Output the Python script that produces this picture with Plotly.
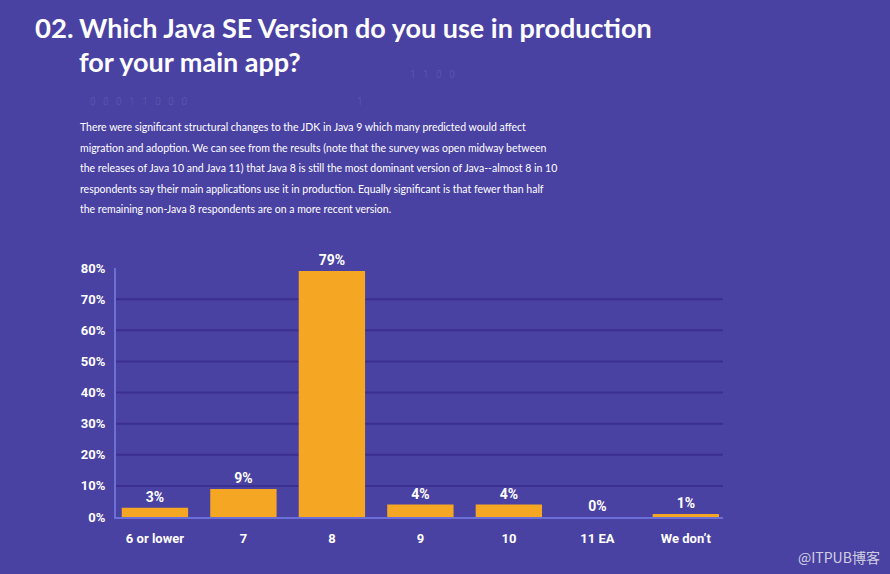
import plotly.graph_objects as go

categories = ["6 or lower", "7", "8", "9", "10", "11 EA", "We don’t"]
values = [3, 9, 79, 4, 4, 0, 1]
y_ticks = [0, 10, 20, 30, 40, 50, 60, 70, 80]
y_tick_labels = [f"{v}%" for v in y_ticks]

title_line1 = "Which Java SE Version do you use in production"
title_line2 = "for your main app?"
body_lines = [
    "There were significant structural changes to the JDK in Java 9 which many predicted would affect",
    "migration and adoption. We can see from the results (note that the survey was open midway between",
    "the releases of Java 10 and Java 11) that Java 8 is still the most dominant version of Java--almost 8 in 10",
    "respondents say their main applications use it in production. Equally significant is that fewer than half",
    "the remaining non-Java 8 respondents are on a more recent version.",
]

BG = "#4a42a3"
GRID = "#3b2f8f"
AXIS = "#6a70d8"
BAR = "#f5a623"

title_font = "Lato, sans-serif"
body_font = "Lato, Open Sans, sans-serif"
num_font = "Roboto, Open Sans, sans-serif"

W, H = 890, 574
ML, MR, MT, MB = 116, 167, 268, 57

fig = go.Figure()
fig.add_trace(go.Bar(
    x=categories, y=values,
    marker=dict(color=BAR, line=dict(width=0)),
    text=[f"{v}%" for v in values], textposition="outside",
    textfont=dict(color="white", size=14, family=num_font, weight="bold"),
    cliponaxis=False, hoverinfo="skip",
))

shapes = []
for v in y_ticks[1:-1]:
    shapes.append(dict(type="line", xref="paper", x0=0, x1=1, yref="y", y0=v, y1=v,
                       line=dict(color=GRID, width=2), layer="below"))

pw = W - ML - MR
ph = H - MT - MB
def px(x):
    return (x - ML) / pw
def py(y):
    return (H - MB - y) / ph

ann = []
# faint background digits (decorative)
digits = [("0   0   0   1   1   0   0   0", 88, 102), ("1", 355, 102), ("1   1   0   0", 408, 75)]
for t, x, y in digits:
    ann.append(dict(text=t, x=px(x), y=py(y), xref="paper", yref="paper", xanchor="left", yanchor="middle",
                    showarrow=False, font=dict(color="rgba(255,255,255,0.10)", size=10, family=num_font)))

ann.append(dict(text="<b>02.</b>", x=px(33), y=py(27), xref="paper", yref="paper", xanchor="left", yanchor="middle",
                showarrow=False, font=dict(color="white", size=27.5, family=title_font)))
ann.append(dict(text=f"<b>{title_line1}</b>", x=px(77), y=py(27), xref="paper", yref="paper",
                xanchor="left", yanchor="middle", showarrow=False,
                font=dict(color="white", size=27, family=title_font)))
ann.append(dict(text=f"<b>{title_line2}</b>", x=px(77), y=py(61), xref="paper", yref="paper",
                xanchor="left", yanchor="middle", showarrow=False,
                font=dict(color="white", size=27, family=title_font)))

body_y = [127, 147.5, 168, 188.5, 209]
for line, yy in zip(body_lines, body_y):
    ann.append(dict(text=line, x=px(78), y=py(yy), xref="paper", yref="paper", xanchor="left", yanchor="middle",
                    align="left", showarrow=False,
                    font=dict(color="white", size=10.5, family=body_font)))

ann.append(dict(text="@ITPUB博客", x=px(882), y=py(557), xref="paper", yref="paper", xanchor="right", yanchor="middle",
                showarrow=False, font=dict(color="rgba(225,225,232,0.9)", size=14, family="Noto Sans CJK SC")))

fig.update_layout(
    width=W, height=H,
    margin=dict(l=ML, r=MR, t=MT, b=MB),
    paper_bgcolor=BG, plot_bgcolor=BG,
    showlegend=False, bargap=0.25,
    shapes=shapes, annotations=ann,
    xaxis=dict(range=[-0.44, 6.42], showgrid=False, showline=True, linecolor=AXIS, linewidth=2,
               ticks="", tickfont=dict(color="white", size=13, family=num_font, weight="bold"),
               ticklabelstandoff=8, zeroline=False, fixedrange=True),
    yaxis=dict(range=[0, 80], tickvals=y_ticks, ticktext=y_tick_labels, showgrid=False,
               showline=True, linecolor=AXIS, linewidth=2, ticks="", zeroline=False,
               tickfont=dict(color="white", size=13, family=num_font, weight="bold"),
               ticklabelstandoff=6, fixedrange=True),
)

fig.write_html("out.html", config={"displayModeBar": False},
               post_script="document.body.style.margin='0';document.body.style.background='" + BG + "';")
